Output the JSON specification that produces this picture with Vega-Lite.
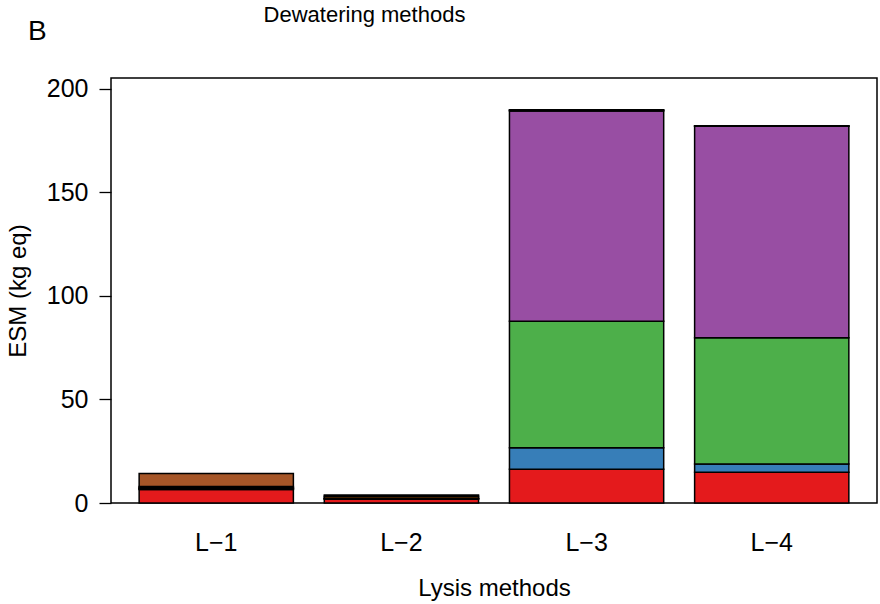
{
  "$schema": "https://vega.github.io/schema/vega-lite/v6.json",
  "autosize": {"type": "none"},
  "padding": {"left": 111, "top": 78, "right": 3, "bottom": 101},
  "width": 766,
  "height": 425,
  "background": "white",
  "config": {
    "font": "Liberation Sans",
    "view": {"stroke": "black", "strokeWidth": 1.5},
    "axis": {"labelFont": "Liberation Sans", "titleFont": "Liberation Sans", "labelColor": "black", "titleColor": "black", "titleFontWeight": "normal", "grid": false}
  },
  "title": {"text": "B", "anchor": "start", "frame": "group", "dx": -83, "dy": 47, "fontSize": 28, "fontWeight": "normal", "color": "black", "font": "Liberation Sans"},
  "data": {"values": [
    {"lysis": "L−1", "method": "D−1", "ord": 1, "value": 6.5},
    {"lysis": "L−1", "method": "D−2", "ord": 2, "value": 0.3},
    {"lysis": "L−1", "method": "D−3", "ord": 3, "value": 0.3},
    {"lysis": "L−1", "method": "D−4", "ord": 4, "value": 0.3},
    {"lysis": "L−1", "method": "D−5", "ord": 5, "value": 0.6},
    {"lysis": "L−1", "method": "D−6", "ord": 6, "value": 6.3},
    {"lysis": "L−2", "method": "D−1", "ord": 1, "value": 1.8},
    {"lysis": "L−2", "method": "D−2", "ord": 2, "value": 0.2},
    {"lysis": "L−2", "method": "D−3", "ord": 3, "value": 0.2},
    {"lysis": "L−2", "method": "D−4", "ord": 4, "value": 0.2},
    {"lysis": "L−2", "method": "D−5", "ord": 5, "value": 0.9},
    {"lysis": "L−2", "method": "D−6", "ord": 6, "value": 0.6},
    {"lysis": "L−3", "method": "D−1", "ord": 1, "value": 16.3},
    {"lysis": "L−3", "method": "D−2", "ord": 2, "value": 10.4},
    {"lysis": "L−3", "method": "D−3", "ord": 3, "value": 61.1},
    {"lysis": "L−3", "method": "D−4", "ord": 4, "value": 101.5},
    {"lysis": "L−3", "method": "D−5", "ord": 5, "value": 0.4},
    {"lysis": "L−3", "method": "D−6", "ord": 6, "value": 0.3},
    {"lysis": "L−4", "method": "D−1", "ord": 1, "value": 14.8},
    {"lysis": "L−4", "method": "D−2", "ord": 2, "value": 4.0},
    {"lysis": "L−4", "method": "D−3", "ord": 3, "value": 61.0},
    {"lysis": "L−4", "method": "D−4", "ord": 4, "value": 102.2},
    {"lysis": "L−4", "method": "D−5", "ord": 5, "value": 0.1},
    {"lysis": "L−4", "method": "D−6", "ord": 6, "value": 0.1}
  ]},
  "layer": [
    {
      "mark": {"type": "bar", "stroke": "black", "strokeWidth": 1.5},
      "encoding": {
        "x": {"field": "lysis", "type": "nominal", "sort": null,
          "scale": {"paddingInner": 0.167, "paddingOuter": 0.152},
          "axis": {"orient": "bottom", "title": "Lysis methods", "labelAngle": 0, "ticks": false, "tickSize": 0, "domain": false, "labelFontSize": 25, "labelPadding": 27, "titleFontSize": 24, "titlePadding": 21}},
        "y": {"field": "value", "type": "quantitative", "aggregate": "sum", "stack": "zero",
          "scale": {"domain": [0, 205.3], "nice": false, "zero": true},
          "axis": {"title": "ESM (kg eq)", "values": [0, 50, 100, 150, 200], "domain": false, "tickColor": "black", "tickSize": 12, "tickWidth": 1.3, "labelFontSize": 25, "labelPadding": 11, "titleFontSize": 24, "titlePadding": 16}},
        "color": {"field": "method", "type": "nominal", "legend": null,
          "scale": {"domain": ["D−1", "D−2", "D−3", "D−4", "D−5", "D−6"], "range": ["#E41A1C", "#377EB8", "#4DAF4A", "#984EA3", "#FF7F00", "#A65628"]}},
        "order": {"field": "ord", "type": "quantitative", "sort": "ascending"}
      }
    },
    {
      "mark": {"type": "tick", "opacity": 0},
      "encoding": {
        "x": {"field": "lysis", "type": "nominal", "sort": null,
          "axis": {"orient": "top", "title": "Dewatering methods", "labels": false, "ticks": false, "domain": false, "titleFontSize": 22, "titleX": 253, "titleY": -64, "titleBaseline": "middle", "titleAlign": "center"}}
      }
    }
  ],
  "resolve": {"scale": {"x": "independent"}}
}
